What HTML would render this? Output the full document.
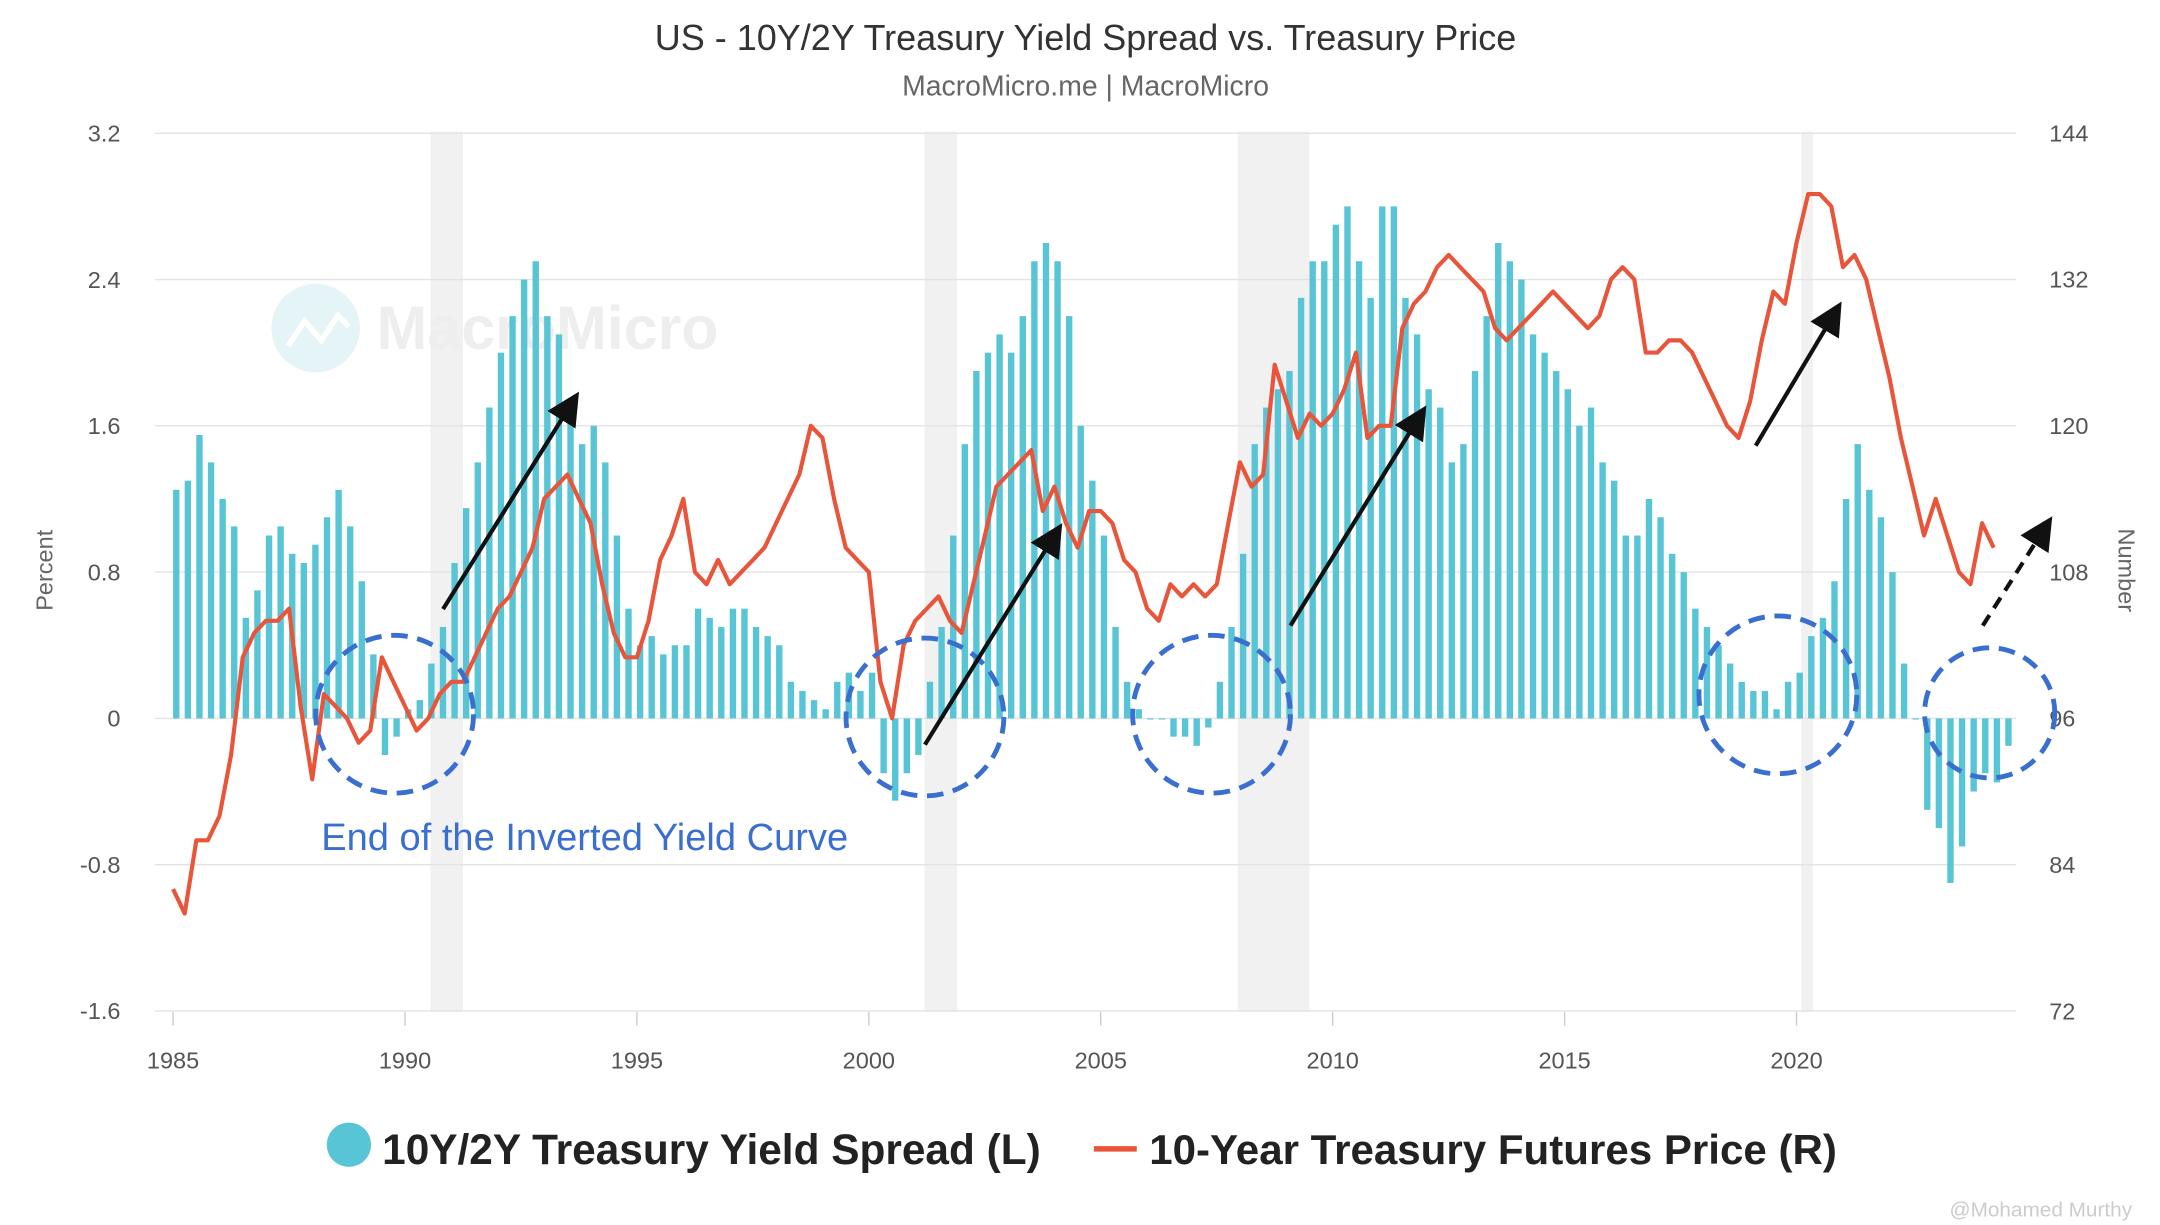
<!DOCTYPE html>
<html><head><meta charset="utf-8"><style>
html,body{margin:0;padding:0;background:#fff;}
svg{display:block;font-family:"Liberation Sans",sans-serif;}
</style></head><body>
<svg id="chart" width="2160" height="1225" viewBox="0 0 1560 885" preserveAspectRatio="none" xmlns="http://www.w3.org/2000/svg">
<text x="784" y="36" text-anchor="middle" font-size="26" fill="#333">US - 10Y/2Y Treasury Yield Spread vs. Treasury Price</text>
<text x="784" y="69" text-anchor="middle" font-size="20.5" fill="#666">MacroMicro.me | MacroMicro</text>
<g id="recessions"></g>
<g id="grid"></g>
<g>
<circle cx="228" cy="237" r="32" fill="#d8f0f3" opacity="0.7"/>
<polyline points="208,250 220,232 232,246 244,228 252,236" fill="none" stroke="#fff" stroke-width="4"/>
<text x="272" y="252" font-size="44" font-weight="bold" fill="#eee">MacroMicro</text>
</g>
<g id="bars"></g>
<path id="priceLine" fill="none" stroke="#e8553a" stroke-width="3" stroke-linejoin="round"/>
<g id="yl"></g>
<g id="yr"></g>
<g id="xl"></g>
<text transform="translate(38,412) rotate(-90)" text-anchor="middle" font-size="17" fill="#666">Percent</text>
<text transform="translate(1530,412) rotate(90)" text-anchor="middle" font-size="17" fill="#666">Number</text>
<g fill="none" stroke="#3a6fd0" stroke-width="3.5" stroke-dasharray="12,7">
<ellipse cx="285" cy="516" rx="57" ry="57"/>
<ellipse cx="668" cy="518" rx="57" ry="57"/>
<ellipse cx="875" cy="516" rx="57" ry="57"/>
<ellipse cx="1284" cy="502" rx="57" ry="57"/>
<ellipse cx="1437" cy="515" rx="47" ry="47"/>
</g>
<text x="232" y="614" font-size="27.5" fill="#3a6fd0">End of the Inverted Yield Curve</text>
<defs><marker id="ah" markerWidth="8" markerHeight="8" refX="6" refY="4" orient="auto"><path d="M0,0 L8,4 L0,8 z" fill="#111"/></marker></defs>
<g stroke="#111" stroke-width="3" marker-end="url(#ah)">
<line x1="320" y1="440" x2="415" y2="288"/>
<line x1="668" y1="538" x2="764" y2="383"/>
<line x1="932" y1="452" x2="1027" y2="298"/>
<line x1="1268" y1="322" x2="1327" y2="223"/>
<line x1="1432" y1="452" x2="1479" y2="378" stroke-dasharray="9,6"/>
</g>
<g>
<g><circle cx="252" cy="827" r="16" fill="#57c5d5"/><text x="276" y="841" font-size="30.6" font-weight="bold" fill="#222">10Y/2Y Treasury Yield Spread (L)</text></g>
<g><line x1="790" y1="830" x2="821" y2="830" stroke="#e8553a" stroke-width="4"/><text x="830" y="841" font-size="30.4" font-weight="bold" fill="#222">10-Year Treasury Futures Price (R)</text></g>
</g>
<text x="1408" y="879" font-size="15" fill="#ccc">@Mohamed Murthy</text>
</svg>
<script>
const yearTicks=[1985,1990,1995,2000,2005,2010,2015,2020];
const leftTicks=[3.2,2.4,1.6,0.8,0,-0.8,-1.6];
const rightTicks=[144,132,120,108,96,84,72];
const recessionStarts=[1990.55,2001.2,2007.95,2020.1];
const recessionEnds=[1991.25,2001.9,2009.5,2020.35];
const spreadStart=1985;
const spread=[1.25,1.3,1.55,1.4, 1.2,1.05,0.55,0.7, 1.0,1.05,0.9,0.85, 0.95,1.1,1.25,1.05, 0.75,0.35,-0.2,-0.1,
0.05,0.1,0.3,0.5, 0.85,1.15,1.4,1.7, 2.0,2.2,2.4,2.5, 2.2,2.1,1.7,1.5, 1.6,1.4,1.0,0.6,
0.4,0.45,0.35,0.4, 0.4,0.6,0.55,0.5, 0.6,0.6,0.5,0.45, 0.4,0.2,0.15,0.1, 0.05,0.2,0.25,0.15,
0.25,-0.3,-0.45,-0.3, -0.2,0.2,0.5,1.0, 1.5,1.9,2.0,2.1, 2.0,2.2,2.5,2.6, 2.5,2.2,1.6,1.3,
1.0,0.5,0.2,0.05, 0.0,0.0,-0.1,-0.1, -0.15,-0.05,0.2,0.5, 0.9,1.5,1.7,1.8, 1.9,2.3,2.5,2.5,
2.7,2.8,2.5,2.3, 2.8,2.8,2.3,2.1, 1.8,1.7,1.4,1.5, 1.9,2.2,2.6,2.5, 2.4,2.1,2.0,1.9,
1.8,1.6,1.7,1.4, 1.3,1.0,1.0,1.2, 1.1,0.9,0.8,0.6, 0.5,0.4,0.3,0.2, 0.15,0.15,0.05,0.2,
0.25,0.45,0.55,0.75, 1.2,1.5,1.25,1.1, 0.8,0.3,0.0,-0.5, -0.6,-0.9,-0.7,-0.4, -0.3,-0.35,-0.15];
const price=[82,80,86,86, 88,93,101,103, 104,104,105,97, 91,98,97,96, 94,95,101,99,
97,95,96,98, 99,99,101,103, 105,106,108,110, 114,115,116,114, 112,107,103,101,
101,104,109,111, 114,108,107,109, 107,108,109,110, 112,114,116,120, 119,114,110,109,
108,99,96,102, 104,105,106,104, 103,107,111,115, 116,117,118,113, 115,112,110,113,
113,112,109,108, 105,104,107,106, 107,106,107,112, 117,115,116,125, 122,119,121,120,
121,123,126,119, 120,120,128,130, 131,133,134,133, 132,131,128,127, 128,129,130,131,
130,129,128,129, 132,133,132,126, 126,127,127,126, 124,122,120,119, 122,127,131,130,
135,139,139,138, 133,134,132,128, 124,119,115,111, 114,111,108,107, 112,110];
const X=y=>125+(y-1985)*33.5;
const YL=v=>519-v*132.1;
const YR=p=>519-(p-96)*8.81;
const NS='http://www.w3.org/2000/svg';
function mk(tag,attrs,parent){const e=document.createElementNS(NS,tag);for(const k in attrs)e.setAttribute(k,attrs[k]);parent.appendChild(e);return e;}
const rec=document.getElementById('recessions');
recessionStarts.forEach((s,i)=>{const r=mk('rect',{x:X(s),y:95,width:X(recessionEnds[i])-X(s),height:636,fill:'#f1f1f1'},rec);

});
const grid=document.getElementById('grid'),yl=document.getElementById('yl'),yr=document.getElementById('yr'),xl=document.getElementById('xl');
leftTicks.forEach((v,i)=>{const y=YL(v);
const l=mk('line',{x1:112,x2:1456,y1:y,y2:y,stroke:'#e3e3e3','stroke-width':1},grid);


const t=mk('text',{x:87,y:y+6,'text-anchor':'end','font-size':17,fill:'#555'},yl);t.textContent=v===0?'0':String(v);


const t2=mk('text',{x:1480,y:YR(rightTicks[i])+6,'font-size':17,fill:'#555'},yr);t2.textContent=rightTicks[i];

});
yearTicks.forEach(yv=>{const x=X(yv);
mk('line',{x1:x,x2:x,y1:731,y2:741,stroke:'#ccc'},xl);
const t=mk('text',{x:x,y:772,'text-anchor':'middle','font-size':17,fill:'#555'},xl);t.textContent=yv;

});
const bars=document.getElementById('bars');
spread.forEach((v,i)=>{const x=X(spreadStart+i*0.25);const y0=YL(0),y1=YL(v);
const b=mk('rect',{x:x,y:Math.min(y0,y1),width:4.6,height:Math.max(0.8,Math.abs(y1-y0)),fill:'#57c5d5'},bars);

});
document.getElementById('priceLine').setAttribute('d',price.map((p,i)=>(i?'L':'M')+X(spreadStart+i*0.25).toFixed(1)+','+YR(p).toFixed(1)).join(' '));
</script>
</body></html>
